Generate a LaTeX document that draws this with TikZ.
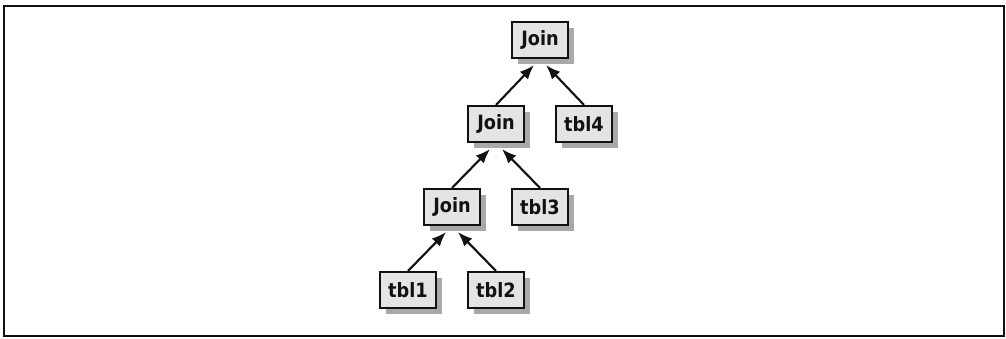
\documentclass[tikz,border=0pt]{standalone}
\usepackage{fontspec}
\setmainfont{DejaVu Sans Condensed}
\usetikzlibrary{arrows.meta,shadows}
\definecolor{ink}{HTML}{111111}
\definecolor{boxfill}{HTML}{E4E4E4}
\definecolor{shade}{HTML}{8C8C8C}
\tikzset{
  table/.style={
    draw=ink,
    line width=1.5pt,
    fill=boxfill,
    minimum width=1.42cm,
    minimum height=0.9cm,
    inner sep=0pt,
    text=ink,
    font=\bfseries\fontsize{14}{16}\selectfont,
    drop shadow={shadow xshift=0.15cm,shadow yshift=-0.15cm,fill=shade,opacity=0.75}
  },
  flow/.style={
    -{Latex[length=0.36cm,width=0.28cm]},
    draw=ink,
    line width=1.5pt
  },
  frame/.style={
    draw=ink,
    line width=1.2pt
  }
}

\begin{document}
\begin{tikzpicture}[x=0.025cm,y=-0.025cm]
  \useasboundingbox (0,0) rectangle (1006,338);
  \draw[frame] (4,6) rectangle (1004,336);

  % Join tree
  \node[table] (join1) at (540,40) {Join};
  \node[table] (join2) at (496,124) {Join};
  \node[table] (tbl4) at (584,124) {tbl4};
  \node[table] (join3) at (452,207) {Join};
  \node[table] (tbl3) at (540,207) {tbl3};
  \node[table] (tbl1) at (408,290) {tbl1};
  \node[table] (tbl2) at (496,290) {tbl2};

  % Inputs feed each join
  \draw[flow] (join2.north) -- ([xshift=-0.15cm,yshift=-0.15cm]join1.south);
  \draw[flow] (tbl4.north) -- ([xshift=0.15cm,yshift=-0.15cm]join1.south);
  \draw[flow] (join3.north) -- ([xshift=-0.15cm,yshift=-0.15cm]join2.south);
  \draw[flow] (tbl3.north) -- ([xshift=0.15cm,yshift=-0.15cm]join2.south);
  \draw[flow] (tbl1.north) -- ([xshift=-0.15cm,yshift=-0.15cm]join3.south);
  \draw[flow] (tbl2.north) -- ([xshift=0.15cm,yshift=-0.15cm]join3.south);
\end{tikzpicture}
\end{document}
